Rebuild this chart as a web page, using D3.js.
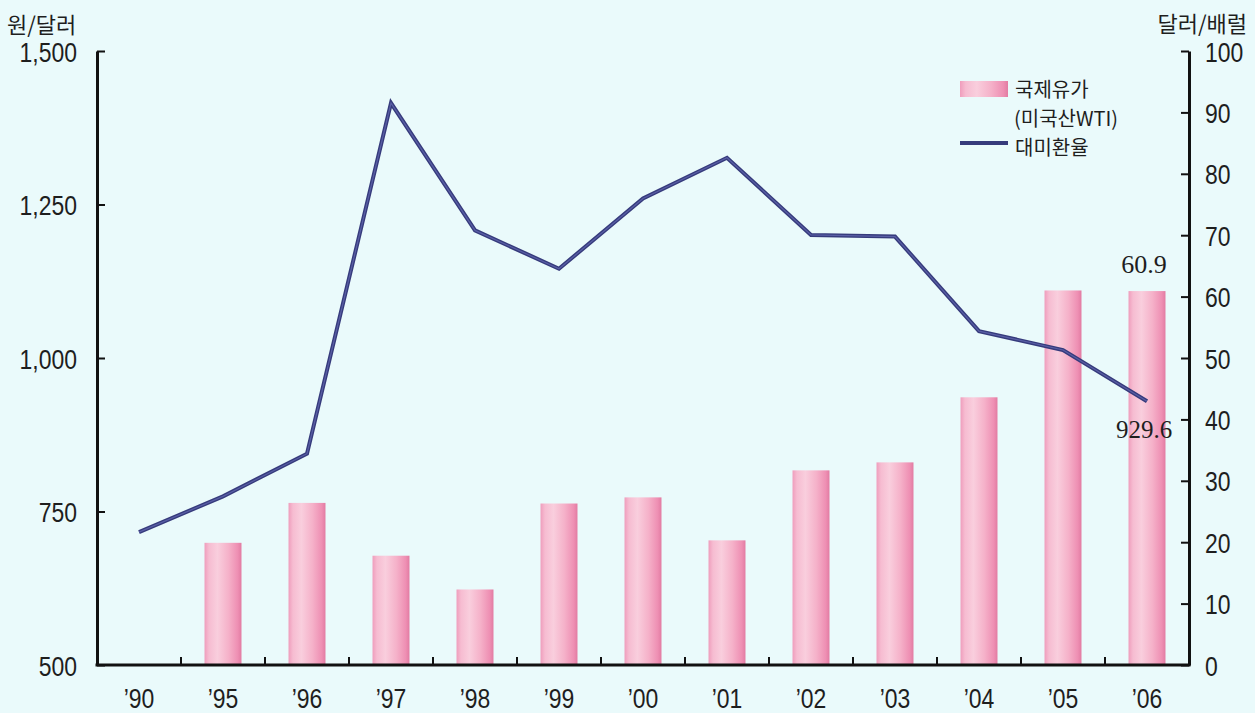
<!DOCTYPE html>
<html><head><meta charset="utf-8">
<script src="https://cdn.jsdelivr.net/npm/d3@7/dist/d3.min.js"></script>
<style>
html,body{margin:0;padding:0;background:#eafafb;}
svg{display:block;}
.num{font-family:"Liberation Sans",Arial,sans-serif;fill:#1e1e1e;}
.kr{font-family:"Noto Sans CJK KR","Noto Sans",sans-serif;fill:#1e1e1e;}
.ser{font-family:"Liberation Serif","Times New Roman",serif;fill:#1e1e1e;}
</style></head>
<body>
<svg id="c" width="1255" height="713"></svg>
<script>
const years = ["’90","’95","’96","’97","’98","’99","’00","’01","’02","’03","’04","’05","’06"];
const oilPrice = [null,19.9,26.4,17.8,12.3,26.3,27.3,20.3,31.7,33.0,43.6,61.0,60.9];
const exchangeRate = [716.4,774.7,844.2,1415.2,1207.8,1145.4,1259.7,1326.1,1200.4,1197.8,1043.8,1013.0,929.6];
const leftTicks = [500,750,1000,1250,1500];
const rightTicks = [0,10,20,30,40,50,60,70,80,90,100];
const legendLabels = ["국제유가","(미국산WTI)","대미환율"];
const leftTitle = "원/달러", rightTitle = "달러/배럴";

const SX = 0.82; // horizontal condensing of numeric labels
const svg = d3.select("#c");
const X0 = 97, X1 = 1189, Y0 = 665, Y1 = 51;
const x = d3.scaleBand().domain(years).range([X0, X1]).paddingInner(0).paddingOuter(0);
const yL = d3.scaleLinear().domain([500,1500]).range([Y0,Y1]);
const yR = d3.scaleLinear().domain([0,100]).range([Y0,Y1]);

const defs = svg.append("defs");
const g = defs.append("linearGradient").attr("id","bar").attr("x1","0").attr("x2","1").attr("y1","0").attr("y2","0");
[[0,"#ef9dbc"],[0.12,"#f6bcd1"],[0.35,"#f9cedd"],[0.65,"#f5b1c9"],[0.9,"#ee8fb3"],[1,"#e27ba2"]]
  .forEach(([o,c])=>g.append("stop").attr("offset",o).attr("stop-color",c));

// bars
const bw = x.bandwidth()*0.44;
svg.append("g").selectAll("rect").data(years.map((y,i)=>({y,v:oilPrice[i]})).filter(d=>d.v!=null))
  .join("rect")
  .attr("x",d=>x(d.y)+x.bandwidth()/2-bw/2)
  .attr("width",bw)
  .attr("y",d=>yR(d.v))
  .attr("height",d=>Y0-yR(d.v))
  .attr("fill","url(#bar)");

// line
const line = d3.line().x((d,i)=>x(years[i])+x.bandwidth()/2).y(d=>yL(d));
svg.append("path").datum(exchangeRate).attr("d",line).attr("fill","none")
  .attr("stroke","#363b7c").attr("stroke-width",4).attr("stroke-linejoin","miter");
svg.append("path").datum(exchangeRate).attr("d",line).attr("fill","none")
  .attr("stroke","#5a5fa6").attr("stroke-width",1.2);

function condense(sel){
  sel.each(function(){
    const t = d3.select(this);
    const xv = +t.attr("x") || 0;
    t.attr("x", xv/SX).attr("transform", `scale(${SX},1)`);
  });
}

// left axis
const la = svg.append("g").attr("transform",`translate(${X0},0)`)
  .call(d3.axisLeft(yL).tickValues(leftTicks).tickFormat(d3.format(",")).tickSize(-8).tickSizeOuter(0).tickPadding(20));
la.select(".domain").attr("stroke","#111").attr("stroke-width",3);
la.selectAll(".tick line").attr("stroke","#111").attr("stroke-width",2);
la.selectAll(".tick text").attr("class","num").attr("font-size",28).attr("dy","0.36em").call(condense);

// right axis
const ra = svg.append("g").attr("transform",`translate(${X1},0)`)
  .call(d3.axisRight(yR).tickValues(rightTicks).tickSize(-8).tickSizeOuter(0).tickPadding(16));
ra.select(".domain").attr("stroke","#111").attr("stroke-width",3);
ra.selectAll(".tick line").attr("stroke","#111").attr("stroke-width",2);
ra.selectAll(".tick text").attr("class","num").attr("font-size",28).attr("dy","0.36em").call(condense);

// bottom axis
svg.append("line").attr("x1",X0-1.5).attr("x2",X1+1.5).attr("y1",Y0).attr("y2",Y0)
  .attr("stroke","#111").attr("stroke-width",3);
svg.append("g").selectAll("line").data(years.slice(1)).join("line")
  .attr("x1",d=>x(d)).attr("x2",d=>x(d)).attr("y1",Y0).attr("y2",Y0-8)
  .attr("stroke","#111").attr("stroke-width",2);
const ba = svg.append("g").attr("transform",`translate(0,${Y0})`)
  .call(d3.axisBottom(x).tickSize(0).tickPadding(0));
ba.select(".domain").remove();
ba.selectAll(".tick text").attr("class","num").attr("font-size",28).attr("y",43).attr("dy",0).call(condense);

// axis titles
svg.append("text").attr("class","kr").attr("x",7).attr("y",33).attr("font-size",22).text(leftTitle);
svg.append("text").attr("class","kr").attr("x",1247).attr("y",32).attr("text-anchor","end").attr("font-size",22).text(rightTitle);

// annotations
const last = years.length-1;
svg.append("text").attr("class","ser").attr("font-size",26).attr("text-anchor","middle")
  .attr("x",x(years[last])+x.bandwidth()/2-3).attr("y",yR(oilPrice[last])-18).text(oilPrice[last].toFixed(1));
svg.append("text").attr("class","ser").attr("font-size",25).attr("text-anchor","middle")
  .attr("x",x(years[last])+x.bandwidth()/2-3).attr("y",yL(exchangeRate[last])+37).text(exchangeRate[last].toFixed(1));

// legend
const lg = svg.append("g");
lg.append("rect").attr("x",960).attr("y",81).attr("width",48).attr("height",16).attr("fill","url(#bar)");
lg.append("text").attr("class","kr").attr("x",1015).attr("y",97).attr("font-size",20).text(legendLabels[0]);
lg.append("text").attr("class","kr").attr("x",1014).attr("y",126).attr("font-size",20).text(legendLabels[1]);
lg.append("line").attr("x1",960).attr("x2",1008).attr("y1",143).attr("y2",143).attr("stroke","#363b7c").attr("stroke-width",4);
lg.append("text").attr("class","kr").attr("x",1015).attr("y",155).attr("font-size",20).text(legendLabels[2]);
</script>
</body></html>
